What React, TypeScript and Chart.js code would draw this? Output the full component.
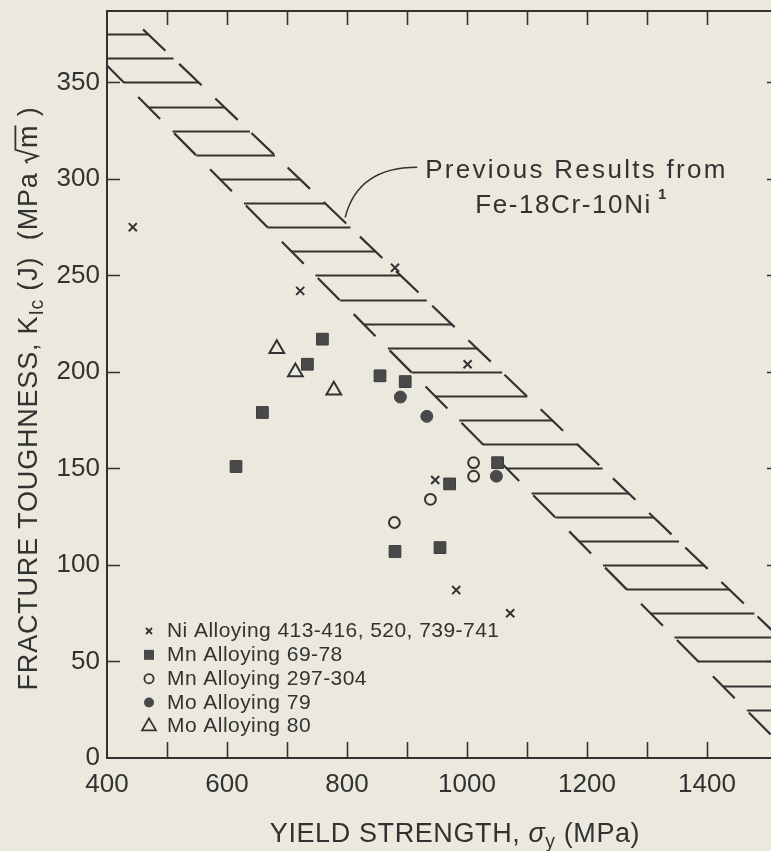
import React, { useEffect, useRef } from 'react';
import { Chart, registerables } from 'chart.js';

Chart.register(...registerables);

const CANVAS_W = 771;
const CANVAS_H = 851;
const BG = '#ebe9de';
const INK = '#323232';
const MARK = '#494949';
const FONT = '"Liberation Sans", Arimo, Arial, Helvetica, sans-serif';

// ---- axes ----
const xMin = 400;
const xMax = 1500;
const xStep = 100;
const xLabelStep = 200;
const yMin = 0;
const yMax = 387;
const yStep = 50;

// ---- series ----
const niLabel = 'Ni Alloying 413-416, 520, 739-741';
const niX = [443, 722, 880, 1001, 947, 982, 1072];
const niY = [275, 242, 254, 204, 144, 87, 75];

const mnALabel = 'Mn Alloying 69-78';
const mnAX = [615, 659, 734, 759, 855, 897, 971, 1051, 880, 955];
const mnAY = [151, 179, 204, 217, 198, 195, 142, 153, 107, 109];

const mnBLabel = 'Mn Alloying 297-304';
const mnBX = [879, 939, 1011, 1011];
const mnBY = [122, 134, 153, 146];

const mo79Label = 'Mo Alloying 79';
const mo79X = [889, 933, 1049];
const mo79Y = [187, 177, 146];

const mo80Label = 'Mo Alloying 80';
const mo80X = [683, 714, 778];
const mo80Y = [212, 200, 190.5];

// ---- previous results band (Fe-18Cr-10Ni) ----
const bandUpperX = [310, 1545];
const bandUpperY = [387, 0];
const bandLowerX = [460, 1731];
const bandLowerY = [377.5, 0];
const hatchY = [
  375, 362.5, 350, 337.5, 325, 312.5, 300, 287.5, 275, 262.5, 250, 237.5, 225, 212.5, 200,
  187.5, 175, 162.5, 150, 137.5, 125, 112.5, 100, 87.5, 75, 62.5, 50, 37.5, 25,
];

// ---- callout ----
const calloutX = [797, 818, 917];
const calloutY = [280, 306, 306];
const calloutLine1 = 'Previous Results from';
const calloutLine2 = 'Fe-18Cr-10Ni';
const calloutNote = '1';

type Run = { t: string; scale?: number; dy?: number; italic?: boolean; radical?: boolean };

const pts = (xs: number[], ys: number[]) => xs.map((x, i) => ({ x, y: ys[i] }));

function runFont(size: number, r: Run) {
  const s = Math.round(size * (r.scale ?? 1) * 10) / 10;
  return `${r.italic ? 'italic ' : ''}${s}px ${FONT}`;
}

function drawRuns(
  ctx: CanvasRenderingContext2D,
  runs: Run[],
  x: number,
  y: number,
  size: number,
  spacing: number,
  align: 'center' | 'left',
) {
  const c = ctx as any;
  const widths = runs.map((r) => {
    ctx.font = runFont(size, r);
    c.letterSpacing = `${spacing}px`;
    let w = ctx.measureText(r.t).width;
    if (r.radical) w += size * 0.6;
    return w;
  });
  const total = widths.reduce((a, b) => a + b, 0);
  let cx = align === 'center' ? x - total / 2 : x;
  ctx.textAlign = 'left';
  ctx.textBaseline = 'alphabetic';
  runs.forEach((r, i) => {
    ctx.font = runFont(size, r);
    c.letterSpacing = `${spacing}px`;
    let tx = cx;
    if (r.radical) {
      const rw = size * 0.6;
      const top = y - size * 0.8;
      ctx.save();
      ctx.lineWidth = 1.8;
      ctx.beginPath();
      ctx.moveTo(cx + rw * 0.05, y - size * 0.36);
      ctx.lineTo(cx + rw * 0.22, y - size * 0.42);
      ctx.lineTo(cx + rw * 0.5, y + size * 0.02);
      ctx.lineTo(cx + rw * 0.88, top);
      ctx.lineTo(cx + widths[i] - spacing, top);
      ctx.stroke();
      ctx.restore();
      tx = cx + rw;
    }
    ctx.fillText(r.t, tx, y + (r.dy ?? 0));
    cx += widths[i];
  });
  c.letterSpacing = '0px';
}

function drawSymbol(ctx: CanvasRenderingContext2D, ds: any, x: number, y: number) {
  ctx.save();
  ctx.strokeStyle = INK;
  ctx.fillStyle = MARK;
  const st = ds.pointStyle;
  ctx.beginPath();
  if (st === 'crossRot') {
    ctx.lineWidth = 1.8;
    ctx.moveTo(x - 3, y - 3);
    ctx.lineTo(x + 3, y + 3);
    ctx.moveTo(x + 3, y - 3);
    ctx.lineTo(x - 3, y + 3);
    ctx.stroke();
  } else if (st === 'rect') {
    ctx.rect(x - 5, y - 5, 10, 10);
    ctx.fill();
  } else if (st === 'circle' && ds.filled) {
    ctx.arc(x, y, 5, 0, Math.PI * 2);
    ctx.fill();
  } else if (st === 'circle') {
    ctx.lineWidth = 1.8;
    ctx.arc(x, y, 4.6, 0, Math.PI * 2);
    ctx.stroke();
  } else if (st === 'triangle') {
    ctx.lineWidth = 1.8;
    const r = 8;
    ctx.moveTo(x, y - r);
    ctx.lineTo(x + r * 0.866, y + r / 2);
    ctx.lineTo(x - r * 0.866, y + r / 2);
    ctx.closePath();
    ctx.stroke();
  }
  ctx.restore();
}

const figurePlugin = {
  id: 'figure',
  beforeDraw(chart: any) {
    const ctx = chart.ctx as CanvasRenderingContext2D;
    ctx.save();
    ctx.fillStyle = BG;
    ctx.fillRect(0, 0, chart.width, chart.height);
    ctx.restore();
  },
  beforeDatasetsDraw(chart: any) {
    // horizontal hatching between the two band boundaries
    const ctx = chart.ctx as CanvasRenderingContext2D;
    const xs = chart.scales.x;
    const ys = chart.scales.y;
    const ca = chart.chartArea;
    const line = (X: number[], Y: number[]) =>
      X.map((x, i) => ({ x: xs.getPixelForValue(x), y: ys.getPixelForValue(Y[i]) }));
    const up = line(bandUpperX, bandUpperY);
    const lo = line(bandLowerX, bandLowerY);
    const xAt = (p: { x: number; y: number }[], py: number) =>
      p[0].x + ((p[1].x - p[0].x) * (py - p[0].y)) / (p[1].y - p[0].y);
    ctx.save();
    ctx.beginPath();
    ctx.rect(ca.left, ca.top, chart.width - ca.left, ca.bottom - ca.top);
    ctx.clip();
    ctx.strokeStyle = INK;
    ctx.lineWidth = 2;
    ctx.beginPath();
    hatchY.forEach((v) => {
      const py = Math.round(ys.getPixelForValue(v)) + 0.5;
      ctx.moveTo(xAt(up, py), py);
      ctx.lineTo(xAt(lo, py), py);
    });
    ctx.stroke();
    ctx.restore();
  },
  afterDraw(chart: any) {
    const ctx = chart.ctx as CanvasRenderingContext2D;
    const xs = chart.scales.x;
    const ys = chart.scales.y;
    const ca = chart.chartArea;
    const W = chart.width;
    ctx.save();
    ctx.strokeStyle = INK;
    ctx.fillStyle = INK;
    ctx.lineCap = 'butt';

    // frame
    ctx.lineWidth = 2;
    ctx.beginPath();
    ctx.moveTo(W, ca.top);
    ctx.lineTo(ca.left, ca.top);
    ctx.lineTo(ca.left, ca.bottom);
    ctx.lineTo(W, ca.bottom);
    ctx.stroke();

    // inward tick marks
    ctx.lineWidth = 1.6;
    ctx.beginPath();
    xs.ticks.forEach((t: any) => {
      if (t.value <= xMin || t.value >= xMax) return;
      const px = Math.round(xs.getPixelForValue(t.value)) + 0.5;
      ctx.moveTo(px, ca.top);
      ctx.lineTo(px, ca.top + 14);
      ctx.moveTo(px, ca.bottom);
      ctx.lineTo(px, ca.bottom - 16);
    });
    ys.ticks.forEach((t: any) => {
      if (t.value <= yMin || t.value >= yMax) return;
      const py = Math.round(ys.getPixelForValue(t.value)) + 0.5;
      ctx.moveTo(ca.left, py);
      ctx.lineTo(ca.left + 13, py);
      ctx.moveTo(ca.right, py);
      ctx.lineTo(ca.right + 14, py);
    });
    ctx.stroke();

    // axis titles
    drawRuns(
      ctx,
      [{ t: 'YIELD STRENGTH, ' }, { t: 'σ', italic: true }, { t: 'y', scale: 0.72, dy: 6 }, { t: ' (MPa)' }],
      ca.left + 348,
      ca.bottom + 84,
      27,
      0.6,
      'center',
    );
    ctx.save();
    ctx.translate(ca.left - 70, (ca.top + ca.bottom) / 2 + 14);
    ctx.rotate(-Math.PI / 2);
    drawRuns(
      ctx,
      [
        { t: 'FRACTURE TOUGHNESS, K' },
        { t: 'Ic', scale: 0.72, dy: 6 },
        { t: ' (J)  (MPa ' },
        { t: 'm', radical: true },
        { t: ' )' },
      ],
      0,
      0,
      27,
      0.8,
      'center',
    );
    ctx.restore();

    // callout curve and text
    const c0 = { x: xs.getPixelForValue(calloutX[0]), y: ys.getPixelForValue(calloutY[0]) };
    const c1 = { x: xs.getPixelForValue(calloutX[1]), y: ys.getPixelForValue(calloutY[1]) };
    const c2 = { x: xs.getPixelForValue(calloutX[2]), y: ys.getPixelForValue(calloutY[2]) };
    ctx.lineWidth = 1.5;
    ctx.beginPath();
    ctx.moveTo(c0.x, c0.y);
    ctx.quadraticCurveTo(c1.x, c1.y, c2.x, c2.y);
    ctx.stroke();
    drawRuns(ctx, [{ t: calloutLine1 }], c2.x + 8, c2.y + 11, 26, 2.3, 'left');
    drawRuns(ctx, [{ t: calloutLine2 }], c2.x + 58, c2.y + 46, 26, 1.6, 'left');
    (ctx as any).letterSpacing = `1.6px`;
    ctx.font = `26px ${FONT}`;
    const w2 = ctx.measureText(calloutLine2).width;
    (ctx as any).letterSpacing = '0px';
    ctx.font = `bold 15px ${FONT}`;
    ctx.fillText(calloutNote, c2.x + 58 + w2 + 6, c2.y + 32);

    // legend
    const sets = chart.data.datasets.filter((d: any) => d.inLegend);
    sets.forEach((d: any, i: number) => {
      const baseY = ca.bottom - 121 + i * 23.85;
      drawSymbol(ctx, d, ca.left + 42, baseY - 6);
      ctx.fillStyle = INK;
      drawRuns(ctx, [{ t: d.label }], ca.left + 60, baseY, 21, 0.45, 'left');
    });

    ctx.restore();
  },
};

export default function App() {
  const ref = useRef<HTMLCanvasElement>(null);

  useEffect(() => {
    const canvas = ref.current;
    if (!canvas) return;
    const clear = 'rgba(0,0,0,0)';
    const tickFont = { family: FONT, size: 26 };
    const chart = new Chart(canvas, {
      type: 'scatter',
      data: {
        datasets: [
          {
            label: niLabel,
            inLegend: true,
            data: pts(niX, niY),
            pointStyle: 'crossRot',
            pointRadius: 5.7,
            borderColor: INK,
            backgroundColor: INK,
            borderWidth: 2,
          },
          {
            label: mnALabel,
            inLegend: true,
            data: pts(mnAX, mnAY),
            pointStyle: 'rect',
            pointRadius: 8.3,
            borderColor: '#3c3c3c',
            backgroundColor: MARK,
            borderWidth: 1,
          },
          {
            label: mnBLabel,
            inLegend: true,
            data: pts(mnBX, mnBY),
            pointStyle: 'circle',
            pointRadius: 5.4,
            borderColor: INK,
            backgroundColor: clear,
            borderWidth: 2,
          },
          {
            label: mo79Label,
            inLegend: true,
            filled: true,
            data: pts(mo79X, mo79Y),
            pointStyle: 'circle',
            pointRadius: 6,
            borderColor: MARK,
            backgroundColor: MARK,
            borderWidth: 1,
          },
          {
            label: mo80Label,
            inLegend: true,
            data: pts(mo80X, mo80Y),
            pointStyle: 'triangle',
            pointRadius: 8.5,
            borderColor: INK,
            backgroundColor: clear,
            borderWidth: 2,
          },
          {
            label: 'band upper boundary',
            data: pts(bandUpperX, bandUpperY),
            showLine: true,
            pointRadius: 0,
            borderColor: INK,
            borderWidth: 2.2,
            borderDash: [31, 20],
            borderDashOffset: 32,
            fill: false,
            clip: { left: 0, top: 0, right: 8, bottom: 0 },
          },
          {
            label: 'band lower boundary',
            data: pts(bandLowerX, bandLowerY),
            showLine: true,
            pointRadius: 0,
            borderColor: INK,
            borderWidth: 2.2,
            borderDash: [31, 19],
            borderDashOffset: 0,
            fill: false,
            clip: { left: 0, top: 0, right: 8, bottom: 0 },
          },
        ] as any,
      },
      options: {
        responsive: false,
        animation: false,
        events: [],
        layout: { autoPadding: false, padding: { top: 11, right: 4, left: 0, bottom: 0 } },
        plugins: {
          legend: { display: false },
          tooltip: { enabled: false },
        },
        scales: {
          x: {
            type: 'linear',
            position: 'bottom',
            min: xMin,
            max: xMax,
            afterFit: (s: any) => {
              s.height = 93;
              s.paddingLeft = 0;
              s.paddingRight = 0;
            },
            grid: { display: false, drawTicks: false },
            border: { display: false },
            ticks: {
              stepSize: xStep,
              includeBounds: false,
              autoSkip: false,
              maxRotation: 0,
              padding: 11,
              color: INK,
              font: tickFont,
              callback: (v: any) => (Number(v) % xLabelStep === 0 ? String(v) : ''),
            },
          },
          y: {
            type: 'linear',
            position: 'left',
            min: yMin,
            max: yMax,
            afterFit: (s: any) => {
              s.width = 107;
              s.paddingTop = 0;
              s.paddingBottom = 0;
            },
            grid: { display: false, drawTicks: false },
            border: { display: false },
            ticks: {
              stepSize: yStep,
              includeBounds: false,
              autoSkip: false,
              padding: 7,
              color: INK,
              font: tickFont,
            },
          },
        },
      } as any,
      plugins: [figurePlugin as any],
    });
    return () => chart.destroy();
  }, []);

  return (
    <div
      style={{
        position: 'absolute',
        left: 0,
        top: 0,
        width: CANVAS_W,
        height: CANVAS_H,
        overflow: 'hidden',
        background: BG,
      }}
    >
      <canvas
        ref={ref}
        width={CANVAS_W}
        height={CANVAS_H}
        style={{ display: 'block', width: CANVAS_W, height: CANVAS_H }}
      />
    </div>
  );
}
